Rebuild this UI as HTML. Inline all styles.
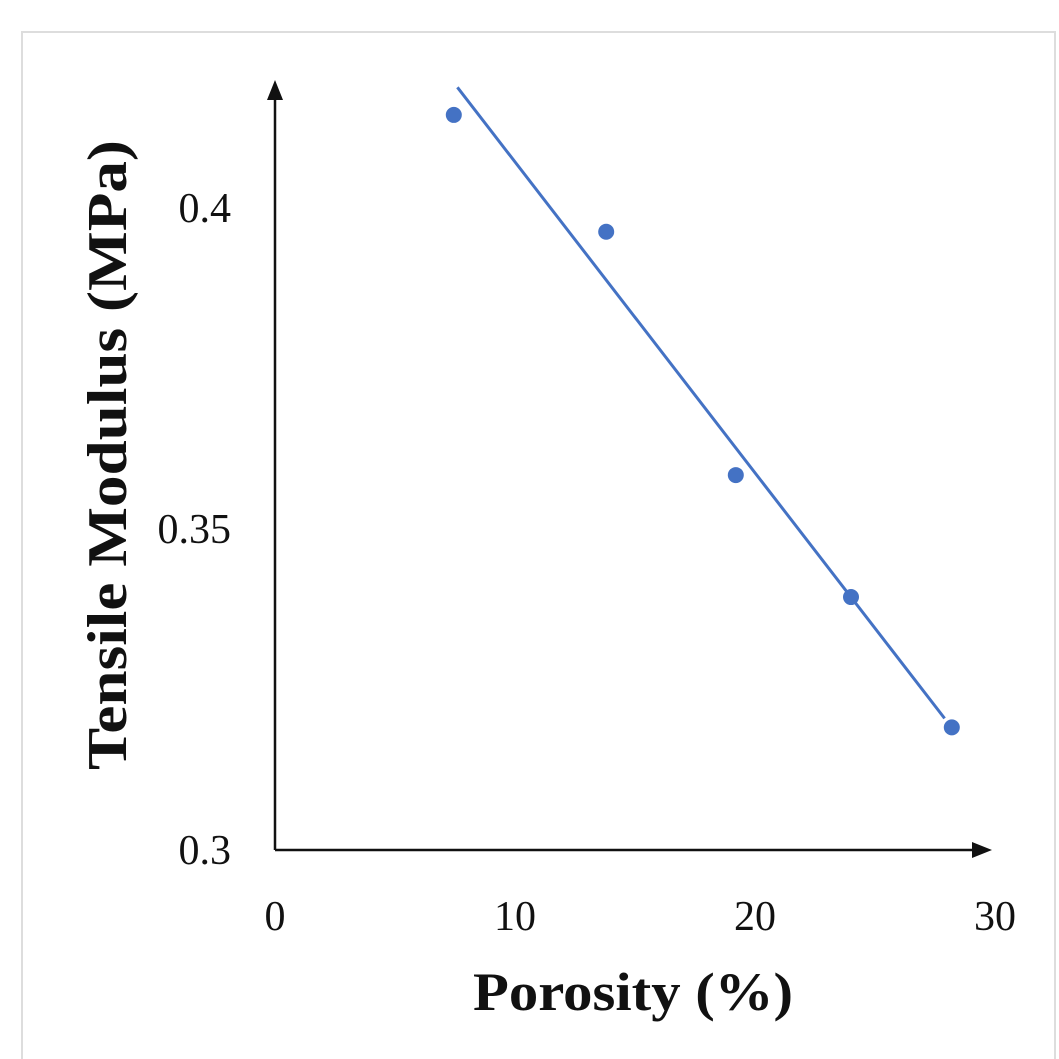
<!DOCTYPE html>
<html><head><meta charset="utf-8"><style>
body{margin:0;background:#fff;width:1059px;height:1059px;overflow:hidden}
svg{display:block}
text{font-family:"Liberation Serif",serif;fill:#111}
</style></head><body>
<svg width="1059" height="1059">
<rect x="22" y="32" width="1033" height="1040" fill="#fff" stroke="#ddd" stroke-width="2"/>
<g id="axes"></g>
<g id="marks"></g>
</svg>
<script>
const xTicks=[0,10,20,30];
const yTicks=[0.3,0.35,0.4];
const yTickLabels=["0.3","0.35","0.4"];
const porosity=[7.45,13.8,19.2,24.0,28.2];
const modulus=[0.4145,0.3963,0.3584,0.3394,0.3191];
const trendX=[7.6,27.9];
const trendY=[0.4188,0.3205];
const NS="http://www.w3.org/2000/svg";
const X=v=>275+v*24;
const Y=v=>850-(v-0.3)*6420;
function mk(tag,attrs,parent,txt){const e=document.createElementNS(NS,tag);for(const k in attrs)e.setAttribute(k,attrs[k]);if(txt!==undefined)e.textContent=txt;parent.appendChild(e);return e;}
const ax=document.getElementById('axes'),mg=document.getElementById('marks');
let e=mk('line',{x1:275,y1:850,x2:980,y2:850,stroke:'#111','stroke-width':2.5},ax);


e=mk('polygon',{points:'992,850 972,842 972,858',fill:'#111'},ax);


e=mk('line',{x1:275,y1:850,x2:275,y2:92,stroke:'#111','stroke-width':2.5},ax);


e=mk('polygon',{points:'275,80 267,100 283,100',fill:'#111'},ax);


xTicks.forEach(t=>{const el=mk('text',{x:X(t),y:930,'font-size':42,'text-anchor':'middle'},ax,String(t));

});
yTicks.forEach((t,i)=>{const el=mk('text',{x:231,y:Y(t)+14,'font-size':42,'text-anchor':'end'},ax,yTickLabels[i]);

});
e=mk('text',{x:633,y:1010,'font-size':54,'font-weight':'bold','text-anchor':'middle',textLength:320,lengthAdjust:'spacingAndGlyphs'},ax,'Porosity (%)');


e=mk('text',{x:0,y:0,'font-size':56,'font-weight':'bold','text-anchor':'middle',transform:'translate(126,455) rotate(-90)',textLength:630,lengthAdjust:'spacingAndGlyphs'},ax,'Tensile Modulus (MPa)');


e=mk('line',{x1:X(trendX[0]),y1:Y(trendY[0]),x2:X(trendX[1]),y2:Y(trendY[1]),stroke:'#4472c4','stroke-width':3},mg);


porosity.forEach((p,i)=>{const c=mk('circle',{cx:X(p),cy:Y(modulus[i]),r:8,fill:'#4472c4'},mg);

});
</script>
</body></html>
